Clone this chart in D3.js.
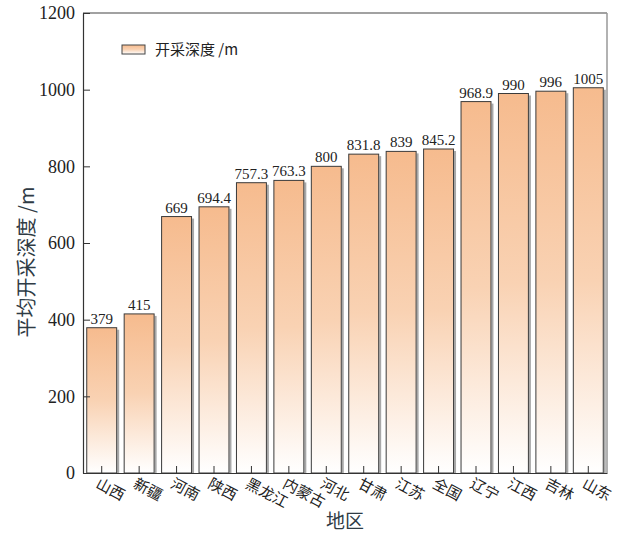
<!DOCTYPE html>
<html>
<head>
<meta charset="utf-8">
<script src="https://cdn.jsdelivr.net/npm/d3@7"></script>
<style>
  body { margin: 0; background: #fff; }
  .num { font-family: "Liberation Serif", "DejaVu Serif", serif; }
  .cjk { font-family: "Noto Sans CJK SC", sans-serif; }
</style>
</head>
<body>
<script>
// regions and mining depth (m)
var regions = ["山西", "新疆", "河南", "陕西", "黑龙江", "内蒙古", "河北", "甘肃", "江苏", "全国", "辽宁", "江西", "吉林", "山东"];
var depths = [379, 415, 669, 694.4, 757.3, 763.3, 800, 831.8, 839, 845.2, 968.9, 990, 996, 1005];
var depthLabels = ["379", "415", "669", "694.4", "757.3", "763.3", "800", "831.8", "839", "845.2", "968.9", "990", "996", "1005"];
var yTicks = [0, 200, 400, 600, 800, 1000, 1200];

var width = 621, height = 534;
// plot area (note: can't use "top" as a global name, it's window.top)
var plotL = 83, plotR = 607, plotT = 13, plotB = 473;

var svg = d3.select("body").append("svg")
  .attr("width", width)
  .attr("height", height);

// gradient: peach at top fading to white
var defs = svg.append("defs");
var grad = defs.append("linearGradient")
  .attr("id", "barGrad")
  .attr("x1", 0).attr("y1", 0).attr("x2", 0).attr("y2", 1);
grad.append("stop").attr("offset", "0%").attr("stop-color", "#f6bb8e");
grad.append("stop").attr("offset", "50%").attr("stop-color", "#f9d2b3");
grad.append("stop").attr("offset", "100%").attr("stop-color", "#ffffff");

var x = d3.scaleBand()
  .domain(regions)
  .range([plotL, plotR])
  .paddingInner(0.2)
  .paddingOuter(0.1);

var y = d3.scaleLinear()
  .domain([0, 1200])
  .range([plotB, plotT]);

var data = regions.map(function(r, i) {
  return { region: r, value: depths[i], label: depthLabels[i] };
});

// frame: top and right lines
svg.append("line")
  .attr("x1", plotL).attr("x2", plotR)
  .attr("y1", plotT).attr("y2", plotT)
  .style("stroke", "#444").style("stroke-width", 1.2);
svg.append("line")
  .attr("x1", plotR).attr("x2", plotR)
  .attr("y1", plotT).attr("y2", plotB)
  .style("stroke", "#999").style("stroke-width", 1.5);

// bar shadows
svg.selectAll("rect.shadow")
  .data(data)
  .enter()
  .append("rect")
  .attr("class", "shadow")
  .attr("x", function(d) { return x(d.region) + x.bandwidth() + 0.5; })
  .attr("y", function(d) { return y(d.value) + 2; })
  .attr("width", 2)
  .attr("height", function(d) { return plotB - y(d.value) - 2; })
  .style("fill", "#a8a8a8");

// bars
svg.selectAll("rect.bar")
  .data(data)
  .enter()
  .append("rect")
  .attr("class", "bar")
  .attr("x", function(d) { return x(d.region); })
  .attr("y", function(d) { return y(d.value); })
  .attr("width", x.bandwidth())
  .attr("height", function(d) { return plotB - y(d.value); })
  .style("fill", "url(#barGrad)")
  .style("stroke", "#3a3a3a")
  .style("stroke-width", 1);

// value labels
svg.selectAll("text.val")
  .data(data)
  .enter()
  .append("text")
  .attr("class", "val num")
  .attr("x", function(d) { return x(d.region) + x.bandwidth() / 2; })
  .attr("y", function(d) { return y(d.value) - 4; })
  .attr("text-anchor", "middle")
  .style("font-size", "15px")
  .style("fill", "#222")
  .text(function(d) { return d.label; });

// y axis, ticks inward
var yAxis = svg.append("g")
  .attr("transform", "translate(" + plotL + ",0)")
  .call(d3.axisLeft(y).tickValues(yTicks).tickFormat(d3.format("d"))
    .tickSize(-7).tickPadding(8).tickSizeOuter(0));
yAxis.select(".domain").style("stroke", "#333").style("stroke-width", 1.2);
yAxis.selectAll("line").style("stroke", "#333");
yAxis.selectAll("text")
  .attr("class", "num")
  .style("font-size", "18px")
  .style("fill", "#222");

// x axis, ticks inward
var xAxis = svg.append("g")
  .attr("transform", "translate(0," + plotB + ")")
  .call(d3.axisBottom(x).tickSize(-7).tickSizeOuter(0));
xAxis.select(".domain").style("stroke", "#333").style("stroke-width", 1.2);
xAxis.selectAll("line").style("stroke", "#333");
xAxis.selectAll("text")
  .attr("class", "cjk")
  .attr("text-anchor", "start")
  .attr("x", 0).attr("y", 0).attr("dy", 0)
  .attr("transform", "translate(-7,14) rotate(28)")
  .style("font-size", "15px")
  .style("fill", "#222");

// axis titles
svg.append("text")
  .attr("class", "cjk")
  .attr("transform", "translate(34,262) rotate(-90)")
  .attr("text-anchor", "middle")
  .style("font-size", "20px")
  .style("fill", "#2f3b45")
  .text("平均开采深度  /m");

svg.append("text")
  .attr("class", "cjk")
  .attr("x", 345).attr("y", 528)
  .attr("text-anchor", "middle")
  .style("font-size", "19px")
  .style("fill", "#2f3b45")
  .text("地区");

// legend
var legend = svg.append("g").attr("transform", "translate(122,45)");
legend.append("rect")
  .attr("width", 23).attr("height", 9)
  .style("fill", "url(#barGrad)")
  .style("stroke", "#444").style("stroke-width", 1);
legend.append("text")
  .attr("class", "cjk")
  .attr("x", 33).attr("y", 10)
  .style("font-size", "15px")
  .style("fill", "#222")
  .text("开采深度  /m");
</script>
</body>
</html>
